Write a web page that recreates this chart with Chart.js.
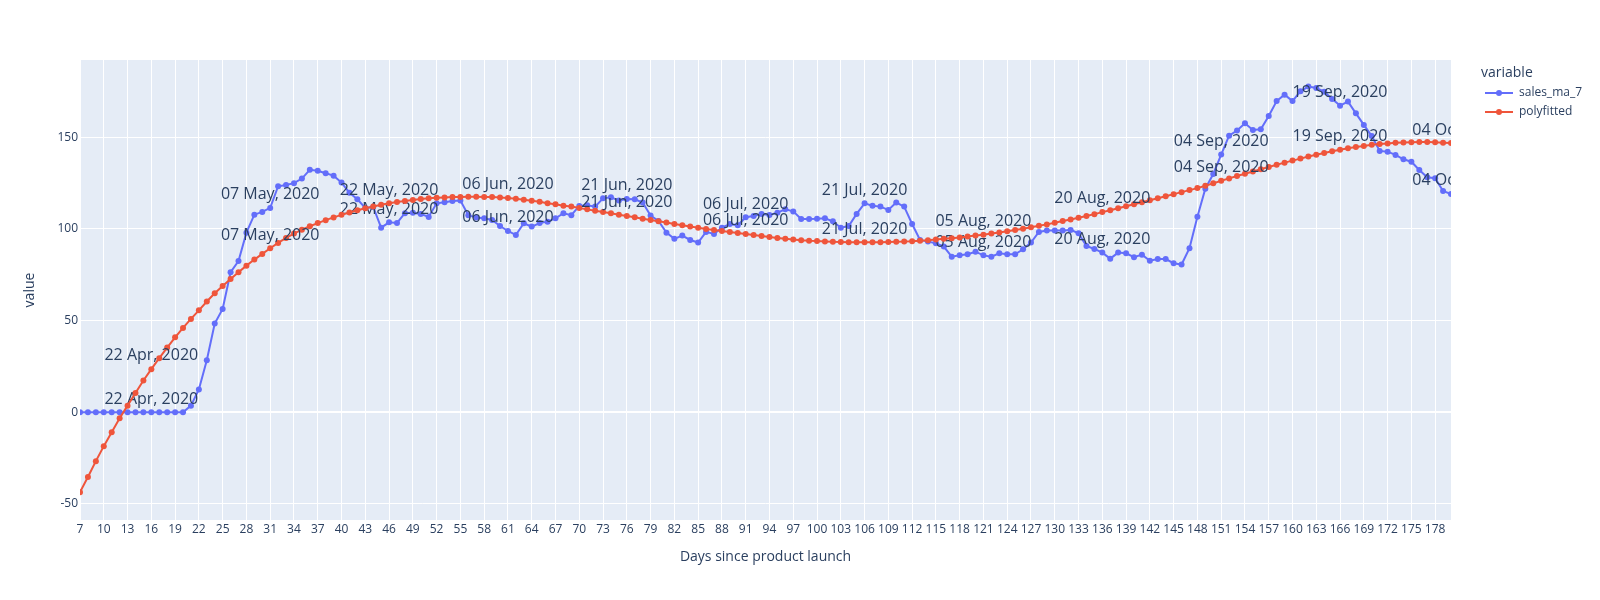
<!DOCTYPE html>
<html>
<head>
<meta charset="utf-8">
<script src="https://cdn.jsdelivr.net/npm/chart.js@4"></script>
<style>
  html, body { margin: 0; padding: 0; background: #fff; }
  #contenedor { width: 1600px; height: 600px; }
</style>
</head>
<body>
<div id="contenedor"><canvas id="graficaVentas" width="1600" height="600"></canvas></div>
<script>
// days since launch, first point
const firstDay = 7;

const salesMa7 = [
  0, 0, 0, 0, 0, 0, 0, 0, 0, 0, 0, 0, 0, 0,
  3.6, 12.4, 28.4, 48.4, 56.4, 76.4, 82.5, 98, 107.8, 109.3,
  111.5, 123.3, 124, 125, 127.5, 132.3, 131.8, 130.4, 129.1, 125.3,
  119.8, 116.2, 111.5, 112, 100.7, 103.6, 103.3, 108.6, 108.9, 108.2,
  106.6, 114, 114.6, 115.3, 115.5, 107.5, 106.2, 105.8, 104.9, 101.6,
  98.9, 96.7, 103.1, 101.3, 103.2, 104, 105.8, 108.6, 107.5, 112.6,
  112.9, 112.2, 116.7, 117.3, 115.5, 116.4, 116.2, 114.4, 107.3, 104.4,
  98, 94.6, 96.4, 94, 92.6, 98.4, 97.3, 100.7, 102.7, 102,
  106.4, 107.1, 108.2, 107.6, 108.9, 110.7, 109.6, 105.5, 105.5, 105.6,
  105.8, 104.2, 100.7, 101.6, 108.2, 114, 112.7, 112.2, 110.4, 114.4,
  112.2, 102.7, 94, 93.1, 92.2, 90.4, 84.9, 85.6, 86.2, 87.6,
  85.6, 84.9, 86.7, 86.2, 86.2, 88.9, 92.6, 98.4, 99.1, 99.1,
  99.1, 99.5, 97.6, 90.7, 89.1, 87.1, 83.8, 87.1, 86.7, 84.6,
  86, 82.7, 83.6, 83.6, 81.3, 80.6, 89.5, 106.7, 122, 130,
  140.6, 150.9, 153.7, 157.7, 154, 154.4, 161.7, 169.8, 173.3, 169.8,
  175.1, 177.7, 176.9, 174.9, 170.9, 167.3, 169.5, 163.1, 156.8, 150.7,
  142.6, 142.2, 140.4, 138, 136.7, 132.2, 128.2, 127.7, 120.7, 119.1,
  119
];

const polyfitted = [
  -43.6, -35.3, -26.7, -18.5, -10.9, -3.3, 3.6, 10.5, 17.3, 23.5,
  29.5, 35.3, 40.9, 46, 50.9, 55.6, 60.4, 64.9, 68.9, 72.7,
  76.4, 80, 83.3, 86.4, 89.5, 92.4, 95.1, 97.5, 99.6, 101.5,
  103.2, 104.8, 106.3, 107.7, 109.0, 110.2, 111.3, 112.3, 113.2, 114.0,
  114.7, 115.3, 115.8, 116.3, 116.7, 117.0, 117.2, 117.4, 117.5, 117.6,
  117.6, 117.5, 117.4, 117.2, 116.9, 116.5, 116.0, 115.4, 114.8, 114.0,
  113.5, 112.7, 112.2, 111.5, 110.7, 110.0, 109.3, 108.6, 107.8, 107.1,
  106.4, 105.6, 104.9, 104.2, 103.5, 102.7, 102.0, 101.3, 100.7, 100.0,
  99.5, 98.9, 98.4, 97.8, 97.3, 96.7, 96.2, 95.6, 95.1, 94.7,
  94.3, 93.9, 93.6, 93.4, 93.2, 93.0, 92.9, 92.8, 92.7, 92.7,
  92.7, 92.8, 92.9, 93.0, 93.1, 93.3, 93.6, 93.9, 94.2, 94.6,
  95.0, 95.4, 95.9, 96.4, 96.9, 97.5, 98.1, 98.7, 99.4, 100.1,
  100.9, 101.7, 102.5, 103.4, 104.3, 105.2, 106.1, 107.1, 108.1, 109.2,
  110.2, 111.3, 112.4, 113.5, 114.6, 115.7, 116.8, 117.9, 119.0, 120.1,
  121.2, 122.3, 123.6, 124.9, 126.3, 127.6, 128.9, 130.1, 131.4, 132.6,
  133.8, 135.0, 136.2, 137.3, 138.4, 139.5, 140.5, 141.5, 142.4, 143.2,
  144.0, 144.7, 145.3, 145.9, 146.3, 146.7, 147.0, 147.2, 147.3, 147.4,
  147.4, 147.3, 147.1, 146.9, 146.6
];

const labelDays = [16, 31, 46, 61, 76, 91, 106, 121, 136, 151, 166, 181];
const labelTexts = [
  '22 Apr, 2020', '07 May, 2020', '22 May, 2020', '06 Jun, 2020',
  '21 Jun, 2020', '06 Jul, 2020', '21 Jul, 2020', '05 Aug, 2020',
  '20 Aug, 2020', '04 Sep, 2020', '19 Sep, 2020', '04 Oct, 2020'
];

const xTicks = [7, 10, 13, 16, 19, 22, 25, 28, 31, 34, 37, 40, 43, 46, 49, 52, 55, 58, 61, 64,
  67, 70, 73, 76, 79, 82, 85, 88, 91, 94, 97, 100, 103, 106, 109, 112, 115, 118, 121, 124,
  127, 130, 133, 136, 139, 142, 145, 148, 151, 154, 157, 160, 163, 166, 169, 172, 175, 178];
const yTicks = [-50, 0, 50, 100, 150];

const seriesNames = ['sales_ma_7', 'polyfitted'];
const seriesColors = ['#636efa', '#EF553B'];
const textColor = '#2a3f5f';
const fontFamily = '"Open Sans", "Noto Sans", sans-serif';

function toPoints(values) {
  return values.map((v, i) => ({ x: firstDay + i, y: v }));
}

// plot background
const fondo = {
  id: 'fondo',
  beforeDraw(chart) {
    const { ctx, chartArea: a } = chart;
    ctx.save();
    ctx.fillStyle = '#E5ECF6';
    ctx.fillRect(a.left, a.top, a.right - a.left, a.bottom - a.top);
    ctx.restore();
  }
};

// date text above some markers of each series
const etiquetas = {
  id: 'etiquetas',
  afterDatasetDraw(chart, args) {
    const { ctx, chartArea: a } = chart;
    const meta = args.meta;
    ctx.save();
    ctx.beginPath();
    ctx.rect(a.left, a.top, a.right - a.left, a.bottom - a.top);
    ctx.clip();
    ctx.font = '16px ' + fontFamily;
    ctx.fillStyle = textColor;
    ctx.textAlign = 'center';
    ctx.textBaseline = 'alphabetic';
    labelDays.forEach((day, k) => {
      const p = meta.data[day - firstDay];
      if (!p) return;
      ctx.fillText(labelTexts[k], p.x, p.y - 8.7);
    });
    ctx.restore();
  }
};

// plotly-like legend on the right
const leyenda = {
  id: 'leyenda',
  afterDraw(chart) {
    const ctx = chart.ctx;
    ctx.save();
    ctx.fillStyle = textColor;
    ctx.textAlign = 'left';
    ctx.textBaseline = 'middle';
    ctx.font = '14px ' + fontFamily;
    ctx.fillText('variable', 1481, 73);
    seriesNames.forEach((name, i) => {
      const y = 93 + i * 19;
      ctx.strokeStyle = seriesColors[i];
      ctx.lineWidth = 2;
      ctx.beginPath();
      ctx.moveTo(1485, y);
      ctx.lineTo(1513, y);
      ctx.stroke();
      ctx.fillStyle = seriesColors[i];
      ctx.beginPath();
      ctx.arc(1499, y, 3, 0, Math.PI * 2);
      ctx.fill();
      ctx.fillStyle = textColor;
      ctx.font = '12px ' + fontFamily;
      ctx.fillText(name, 1519, y);
    });
    ctx.restore();
  }
};

const ctx = document.getElementById('graficaVentas').getContext('2d');
const chart = new Chart(ctx, {
  type: 'line',
  data: {
    datasets: [
      {
        label: seriesNames[0],
        data: toPoints(salesMa7),
        borderColor: seriesColors[0],
        backgroundColor: seriesColors[0],
        borderWidth: 2,
        pointRadius: 3,
        pointBorderWidth: 0,
        tension: 0,
        clip: 0,
        order: 1
      },
      {
        label: seriesNames[1],
        data: toPoints(polyfitted),
        borderColor: seriesColors[1],
        backgroundColor: seriesColors[1],
        borderWidth: 2,
        pointRadius: 3,
        pointBorderWidth: 0,
        tension: 0,
        clip: 0,
        order: 0
      }
    ]
  },
  options: {
    responsive: false,
    animation: false,
    devicePixelRatio: 1,
    events: [],
    layout: { padding: { top: 60, right: 149, left: 0, bottom: 0 } },
    plugins: {
      legend: { display: false },
      tooltip: { enabled: false }
    },
    scales: {
      x: {
        type: 'linear',
        min: 7,
        max: 180,
        afterBuildTicks: s => { s.ticks = xTicks.map(v => ({ value: v })); },
        afterFit: s => { s.height = 80; },
        ticks: {
          autoSkip: false,
          maxRotation: 0,
          minRotation: 0,
          padding: 2,
          color: textColor,
          font: { family: fontFamily, size: 12 }
        },
        grid: { color: '#ffffff', lineWidth: 1, drawTicks: false },
        border: { display: false },
        title: {
          display: true,
          text: 'Days since product launch',
          color: textColor,
          font: { family: fontFamily, size: 14 },
          padding: { top: 0, bottom: 34.6 }
        }
      },
      y: {
        min: -58.8,
        max: 192.2,
        afterBuildTicks: s => { s.ticks = yTicks.map(v => ({ value: v })); },
        afterFit: s => { s.width = 80; },
        ticks: {
          padding: 2,
          color: textColor,
          font: { family: fontFamily, size: 12 }
        },
        grid: {
          color: '#ffffff',
          lineWidth: c => (c.tick && c.tick.value === 0 ? 2 : 1),
          drawTicks: false
        },
        border: { display: false },
        title: {
          display: true,
          text: 'value',
          color: textColor,
          font: { family: fontFamily, size: 14 },
          padding: { top: 21.6, bottom: 0 }
        }
      }
    }
  },
  plugins: [fondo, etiquetas, leyenda]
});
</script>
</body>
</html>
